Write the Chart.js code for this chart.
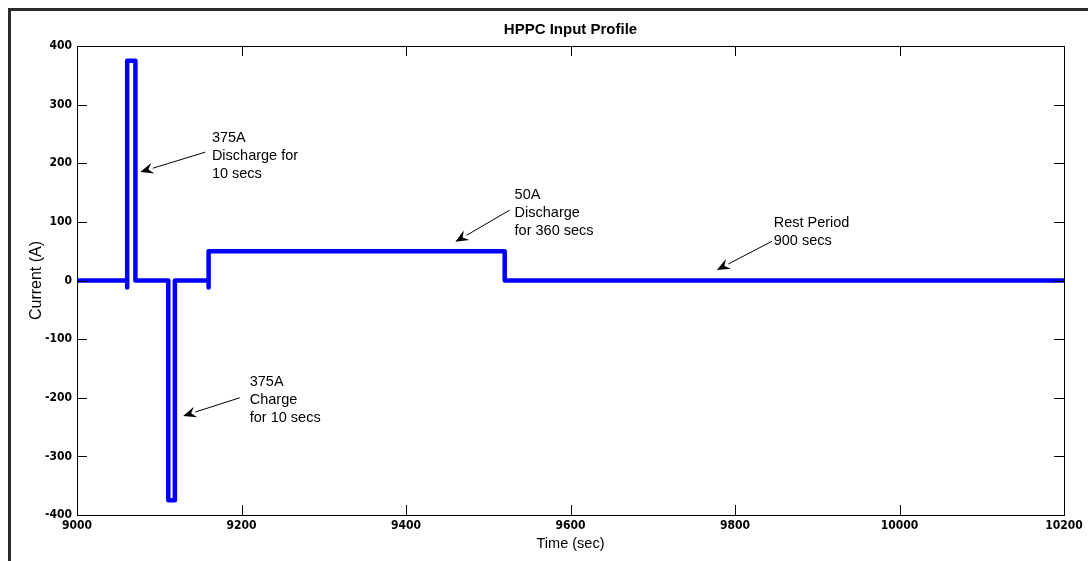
<!DOCTYPE html>
<html>
<head>
<meta charset="utf-8">
<script src="https://cdn.jsdelivr.net/npm/chart.js@4.4.1/dist/chart.umd.min.js"></script>
<style>
  html, body { margin: 0; padding: 0; background: #fff; }
  #wrap { width: 1088px; height: 561px; position: relative; }
</style>
</head>
<body>
<div id="wrap"><canvas id="c" width="1088" height="561"></canvas></div>
<script>
// ---- Data ----
const timeSec   = [9000, 9061, 9061, 9061, 9071, 9071, 9111, 9111, 9119, 9119, 9160, 9160, 9160, 9520, 9520, 10200];
const currentA  = [0,    0,    -12,  375,  375,  0,    0,    -375, -375, 0,    0,    -12,  50,   50,   0,    0];
const xTicks    = [9000, 9200, 9400, 9600, 9800, 10000, 10200];
const yTicks    = [-400, -300, -200, -100, 0, 100, 200, 300, 400];
const chartTitle = 'HPPC Input Profile';
const xLabel = 'Time (sec)';
const yLabel = 'Current (A)';
const noteTexts = [
  ['375A', 'Discharge for', '10 secs'],
  ['375A', 'Charge', 'for 10 secs'],
  ['50A', 'Discharge', 'for 360 secs'],
  ['Rest Period', '900 secs']
];

const points = timeSec.map((t, i) => ({ x: t, y: currentA[i] }));

// annotation placement in data coordinates
const notes = [
  { text: noteTexts[0], tx: 9164, ty: 243, ax0: 9156, ay0: 219, ax1: 9077, ay1: 185 },
  { text: noteTexts[1], tx: 9210, ty: -173, ax0: 9198, ay0: -200, ax1: 9129, ay1: -231 },
  { text: noteTexts[2], tx: 9532, ty: 146, ax0: 9526, ay0: 120, ax1: 9460, ay1: 66 },
  { text: noteTexts[3], tx: 9847, ty: 98, ax0: 9845, ay0: 67, ax1: 9778, ay1: 18 }
];

const tickFont = { family: "'DejaVu Sans Condensed','Liberation Sans Narrow','Liberation Sans',Arial,sans-serif", size: 12, weight: 'bold' };

const decor = {
  id: 'decor',
  beforeDraw(chart) {
    const ctx = chart.ctx;
    ctx.save();
    ctx.fillStyle = '#fff';
    ctx.fillRect(0, 0, chart.width, chart.height);
    ctx.fillStyle = '#2a2a2a';
    ctx.fillRect(8, 8, 3, chart.height - 8);
    ctx.fillRect(8, 8, chart.width - 8, 3);
    ctx.restore();
  },
  afterDraw(chart) {
    const ctx = chart.ctx;
    const a = chart.chartArea;
    const xs = chart.scales.x, ys = chart.scales.y;
    ctx.save();
    ctx.strokeStyle = '#000';
    ctx.lineWidth = 1;
    ctx.beginPath();
    ctx.moveTo(a.left, a.top + 0.5); ctx.lineTo(a.right + 0.5, a.top + 0.5);
    ctx.moveTo(a.right + 0.5, a.top); ctx.lineTo(a.right + 0.5, a.bottom);
    xTicks.forEach(v => {
      const px = Math.round(xs.getPixelForValue(v)) + 0.5;
      ctx.moveTo(px, a.bottom); ctx.lineTo(px, a.bottom - 10);
      ctx.moveTo(px, a.top); ctx.lineTo(px, a.top + 10);
    });
    yTicks.forEach(v => {
      const py = Math.round(ys.getPixelForValue(v)) + 0.5;
      ctx.moveTo(a.left, py); ctx.lineTo(a.left + 10, py);
      ctx.moveTo(a.right, py); ctx.lineTo(a.right - 10, py);
    });
    ctx.stroke();

    ctx.fillStyle = '#000';
    ctx.font = "bold 15px 'Liberation Sans', Arial, sans-serif";
    ctx.textAlign = 'center';
    ctx.textBaseline = 'middle';
    ctx.fillText(chartTitle, (a.left + a.right) / 2, 30);

    ctx.font = "14.5px 'Liberation Sans', Arial, sans-serif";
    ctx.textAlign = 'left';
    notes.forEach(n => {
      const tx = xs.getPixelForValue(n.tx), ty = ys.getPixelForValue(n.ty);
      n.text.forEach((line, i) => ctx.fillText(line, tx, ty + i * 18));
      const x0 = xs.getPixelForValue(n.ax0), y0 = ys.getPixelForValue(n.ay0);
      const x1 = xs.getPixelForValue(n.ax1), y1 = ys.getPixelForValue(n.ay1);
      const ang = Math.atan2(y1 - y0, x1 - x0);
      const L = 13, W = 5.5;
      const bx = x1 - L * Math.cos(ang), by = y1 - L * Math.sin(ang);
      ctx.beginPath();
      ctx.moveTo(x0, y0); ctx.lineTo(bx, by);
      ctx.lineWidth = 1; ctx.strokeStyle = '#000'; ctx.stroke();
      ctx.beginPath();
      ctx.moveTo(x1, y1);
      ctx.lineTo(bx + W * Math.sin(ang), by - W * Math.cos(ang));
      ctx.lineTo(x1 - 0.65 * L * Math.cos(ang), y1 - 0.65 * L * Math.sin(ang));
      ctx.lineTo(bx - W * Math.sin(ang), by + W * Math.cos(ang));
      ctx.closePath();
      ctx.fill();
    });
    ctx.restore();
  }
};

new Chart(document.getElementById('c'), {
  type: 'scatter',
  data: {
    datasets: [{
      data: points,
      showLine: true,
      borderColor: '#0000ff',
      backgroundColor: '#0000ff',
      borderWidth: 4.5,
      borderCapStyle: 'round',
      borderJoinStyle: 'round',
      pointRadius: 0,
      tension: 0
    }]
  },
  options: {
    responsive: false,
    animation: false,
    events: [],
    layout: { padding: { top: 46, right: 24, left: 0, bottom: 0 } },
    plugins: { legend: { display: false }, tooltip: { enabled: false }, title: { display: false } },
    scales: {
      x: {
        type: 'linear',
        min: 9000, max: 10200,
        afterBuildTicks: s => { s.ticks = xTicks.map(v => ({ value: v })); },
        afterFit: s => { s.height = 46; },
        ticks: { color: '#000', font: tickFont, padding: 4, maxRotation: 0, autoSkip: false, callback: v => String(v) },
        grid: { drawOnChartArea: false, drawTicks: false },
        border: { display: true, color: '#000', width: 1 },
        title: { display: true, text: xLabel, color: '#000', font: { family: "'Liberation Sans', Arial, sans-serif", size: 14.5 }, padding: { top: 0, bottom: 8 } }
      },
      y: {
        type: 'linear',
        min: -400, max: 400,
        afterBuildTicks: s => { s.ticks = yTicks.map(v => ({ value: v })); },
        afterFit: s => { s.width = 77; },
        ticks: { color: '#000', font: tickFont, padding: 5, autoSkip: false, callback: v => String(v) },
        grid: { drawOnChartArea: false, drawTicks: false },
        border: { display: true, color: '#000', width: 1 },
        title: { display: true, text: yLabel, color: '#000', font: { family: "'Liberation Sans', Arial, sans-serif", size: 16 }, padding: { top: 27, bottom: 0 } }
      }
    }
  },
  plugins: [decor]
});
</script>
</body>
</html>
